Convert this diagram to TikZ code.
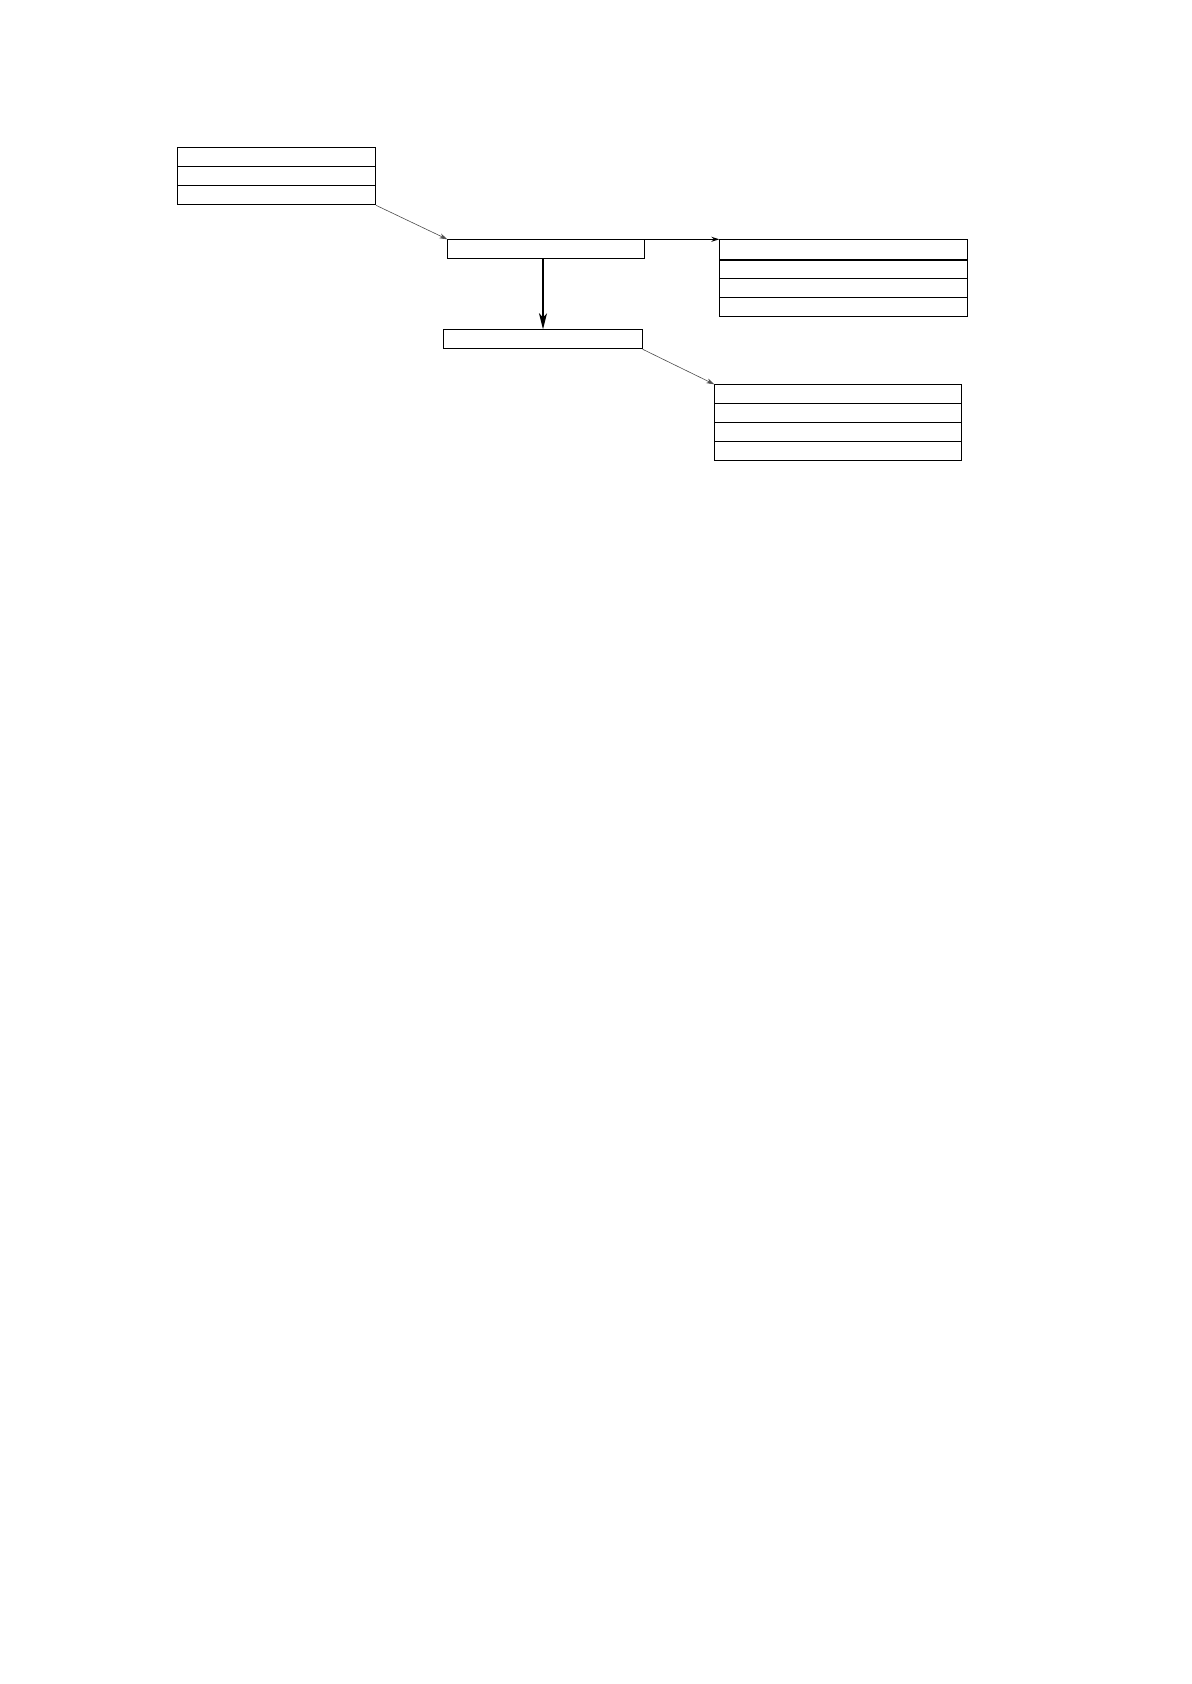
\documentclass[tikz,border=0pt]{standalone}
\usetikzlibrary{arrows.meta}

\begin{document}
\begin{tikzpicture}[x=0.5pt,y=-0.5pt]

        \useasboundingbox (0,0) rectangle (1191,1684);

        \begin{scope}[every node/.style={draw,rectangle,inner sep=0pt,anchor=north west,line width=0.5pt}]
          \node[minimum width=99pt,minimum height=9.5pt] (a1) at (177,147.3) {};
          \node[minimum width=99pt,minimum height=9.5pt] (a2) at (177,166.3) {};
          \node[minimum width=99pt,minimum height=9.5pt] (a3) at (177,185.3) {};
          \node[minimum width=98.5pt,minimum height=9.4pt] (b) at (447.3,239.3) {};
          \node[minimum width=123.7pt,minimum height=9.8pt] (c1) at (719.3,239.3) {};
          \node[minimum width=123.7pt,minimum height=9.6pt] (c2) at (719.3,259) {};
          \node[minimum width=123.7pt,minimum height=9.5pt] (c3) at (719.3,278.3) {};
          \node[minimum width=123.7pt,minimum height=9.5pt] (c4) at (719.3,297.3) {};
          \node[minimum width=99.2pt,minimum height=9.5pt] (d) at (443.3,329.3) {};
          \node[minimum width=123.2pt,minimum height=9.5pt] (e1) at (714.3,384.3) {};
          \node[minimum width=123.2pt,minimum height=9.5pt] (e2) at (714.3,403.3) {};
          \node[minimum width=123.2pt,minimum height=9.5pt] (e3) at (714.3,422.3) {};
          \node[minimum width=123.2pt,minimum height=9.5pt] (e4) at (714.3,441.3) {};
        \end{scope}

        \draw[line width=1.1pt] (c1.south west) -- (c1.south east);

        \begin{scope}[every path/.style={draw}]
          \path[-{Stealth[length=4pt,width=2.5pt]},line width=0.3pt,black!70] (a3.south east) -- (b.north west);
          \path[-{Stealth[length=4pt,width=2.5pt]},line width=0.5pt] (b.north east) -- (c1.north west);
          \path[-{Stealth[length=8pt,width=4pt,inset=2pt]},line width=0.7pt] (d.north |- b.south) -- (d.north);
          \path[-{Stealth[length=4pt,width=2.5pt]},line width=0.3pt,black!70] (d.south east) -- (e1.north west);
        \end{scope}

      \end{tikzpicture}
\end{document}
